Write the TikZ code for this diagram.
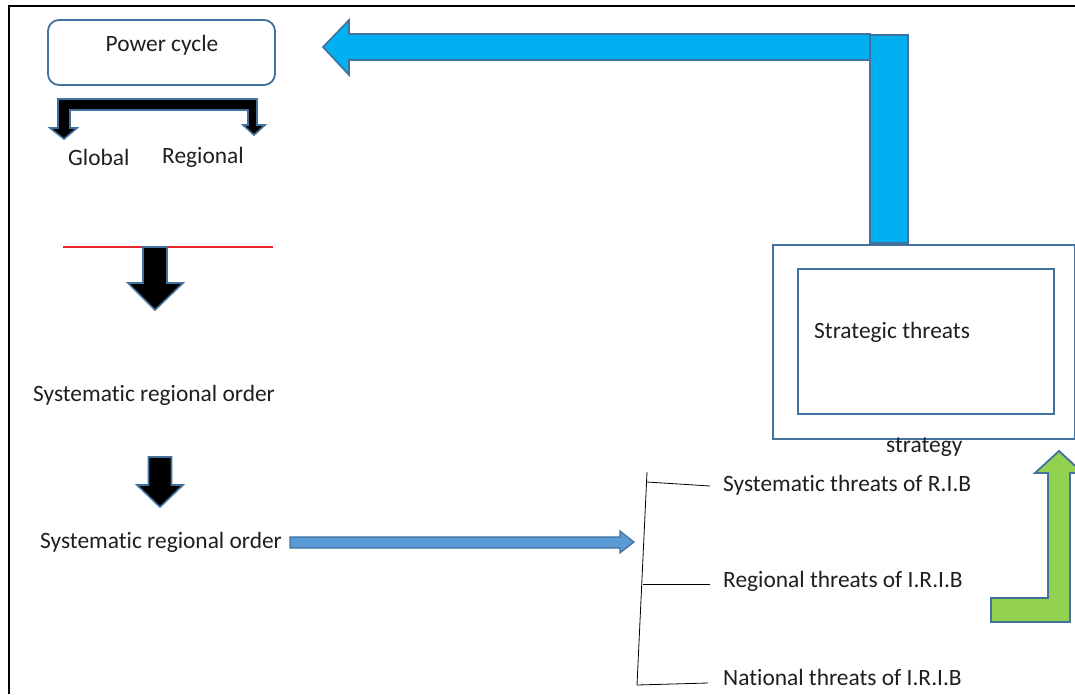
\documentclass[tikz,border=0pt]{standalone}
\usepackage{fontspec}
\setmainfont{Carlito}[Ligatures=NoCommon]
\definecolor{edgeblue}{HTML}{41719C}
\definecolor{skyfill}{HTML}{00B0F0}
\definecolor{midfill}{HTML}{5B9BD5}
\definecolor{greenfill}{HTML}{92D050}
\definecolor{txt}{HTML}{1F1F1F}
\definecolor{redline}{HTML}{E8242B}
\tikzset{
  lbl/.style={inner sep=0pt, anchor=west, text=txt, font=\fontsize{23.4}{27}\selectfont},
  lblc/.style={inner sep=0pt, anchor=center, text=txt, font=\fontsize{23.4}{27}\selectfont},
  fatblack/.style={draw=edgeblue, line width=1.6pt, fill=black, line join=miter},
  fatsky/.style={draw=edgeblue, line width=1.6pt, fill=skyfill, line join=miter},
  fatmid/.style={draw=edgeblue, line width=1.2pt, fill=midfill},
  fatgreen/.style={draw=edgeblue, line width=1.8pt, fill=greenfill},
  bluebox/.style={draw=edgeblue, line width=1.8pt, fill=white, inner sep=0pt},
  thinline/.style={draw=black, line width=0.8pt}
}
\begin{document}
\begin{tikzpicture}[x=1pt,y=-1pt]
\useasboundingbox (0,0) rectangle (1075,694);
\clip (0,0) rectangle (1075,694);
\fill[white] (0,0) rectangle (1075,694);
% frame
\draw[line width=1.6pt] (9,694) -- (9,6) -- (1075,6);

% Power cycle box
\node[bluebox, rounded corners=11pt, minimum width=227pt, minimum height=65pt] (pc) at (161.5,52.5) {};
\node[lblc] (pctext) at (162,45) {Power cycle};

% bracket arrows
\draw[fatblack] (58,99) -- (257,99) -- (257,125) -- (265,125) -- (254,135) -- (243,125) -- (248,125) -- (248,110) -- (70,110) -- (70,128) -- (77,128) -- (64,139) -- (50,128) -- (58,128) -- cycle;
\node[lbl] (glob) at (68,157) {Global};
\node[lbl] (regi) at (162,157) {Regional};

% red line and arrow
\coordinate (rl) at (63,247);
\coordinate (rr) at (273,247);
\draw[draw=redline, line width=1.1pt] (rl) -- (rr);
\draw[fatblack] (143,247) -- (167,247) -- (167,283) -- (183,283) -- (155,310) -- (128,283) -- (143,283) -- cycle;

\node[lblc] (sro1) at (154,395) {Systematic regional order};

\draw[fatblack] (148.5,457) -- (171.5,457) -- (171.5,485) -- (183,485) -- (160,507) -- (137,485) -- (148.5,485) -- cycle;

\node[lbl] (sro2) at (40,542) {Systematic regional order};

% horizontal blue arrow
\draw[fatmid] (290,537) -- (620,537) -- (620,531) -- (634,542) -- (620,553) -- (620,548) -- (290,548) -- cycle;

% bracket of threats
\node[lbl] (t1) at (723,485) {Systematic threats of R.I.B};
\node[lbl] (t2) at (723,581) {Regional threats of I.R.I.B};
\node[lbl] (t3) at (723,677) {National threats of I.R.I.B};
\coordinate (bt) at (647,472);
\coordinate (bb) at (637,685);
\coordinate (b1) at (647,482);
\coordinate (b2) at (643,584);
\draw[thinline] (bt) -- (bb);
\draw[thinline] (b1) -- ([xshift=-13pt,yshift=-1pt]t1.west);
\draw[thinline] (b2) -- ([xshift=-13pt,yshift=-3pt]t2.west);
\draw[thinline] (bb) -- ([xshift=-15pt,yshift=-6pt]t3.west);

% big sky blue bent arrow
\draw[fatsky] (323,47) -- (349,20) -- (349,34) -- (870,34) -- (870,60) -- (349,60) -- (349,75) -- cycle;
\draw[fatsky] (870,35) rectangle (908,243);

% strategy boxes
\node[bluebox, minimum width=302pt, minimum height=194pt, anchor=north west] (outer) at (772,244) {};
\node[bluebox, minimum width=256pt, minimum height=145pt, anchor=north west] (inner) at (797,268) {};
\node[lbl] (sttext) at (814,332) {Strategic threats};
\node[lbl] (stratg) at (886,447) {strategy};

% green arrow
\draw[fatgreen] (991,598) -- (1048,598) -- (1048,473) -- (1035,473) -- (1059,451) -- (1083,473) -- (1070,473) -- (1070,622) -- (991,622) -- cycle;
\end{tikzpicture}
\end{document}
